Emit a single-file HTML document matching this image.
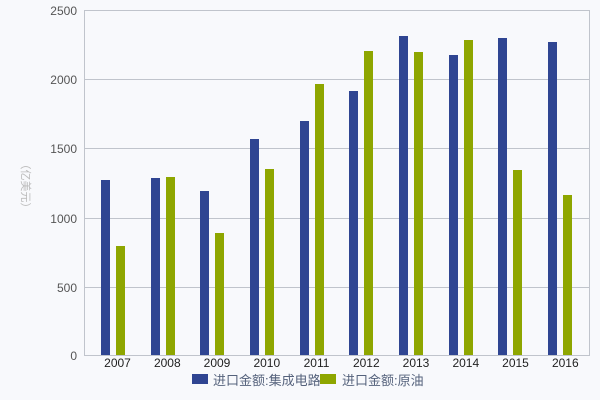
<!DOCTYPE html>
<html><head><meta charset="utf-8"><style>
html,body{margin:0;padding:0;background:#f8f9fc;}
svg{display:block;}
</style></head><body>
<svg width="600" height="400" viewBox="0 0 600 400" xmlns="http://www.w3.org/2000/svg" font-family="Liberation Sans, Noto Sans CJK SC, sans-serif">
<rect width="600" height="400" fill="#f8f9fc"/>
<g stroke="#c0c4cc" stroke-width="1">
<line x1="84" y1="10.5" x2="589" y2="10.5"/>
<line x1="84" y1="79.5" x2="589" y2="79.5"/>
<line x1="84" y1="148.5" x2="589" y2="148.5"/>
<line x1="84" y1="218.5" x2="589" y2="218.5"/>
<line x1="84" y1="287.5" x2="589" y2="287.5"/>
<line x1="84" y1="355.5" x2="589" y2="355.5"/>
<line x1="84.5" y1="10" x2="84.5" y2="356"/>
<line x1="589.5" y1="10" x2="589.5" y2="356"/>
</g>
<g fill="#555" font-size="12" text-anchor="end">
<text x="77" y="15">2500</text>
<text x="77" y="84">2000</text>
<text x="77" y="153">1500</text>
<text x="77" y="223">1000</text>
<text x="77" y="292">500</text>
<text x="77" y="360">0</text>
</g>
<text transform="translate(22,186) rotate(90)" fill="#bbb" font-size="11" text-anchor="middle" font-family="Liberation Sans, Noto Sans CJK SC, sans-serif">（亿美元）</text>
<g fill="#2f4592">
<rect x="101" y="180" width="9" height="175"/>
<rect x="151" y="178" width="9" height="177"/>
<rect x="200" y="191" width="9" height="164"/>
<rect x="250" y="139" width="9" height="216"/>
<rect x="300" y="121" width="9" height="234"/>
<rect x="349" y="91" width="9" height="264"/>
<rect x="399" y="36" width="9" height="319"/>
<rect x="449" y="55" width="9" height="300"/>
<rect x="498" y="38" width="9" height="317"/>
<rect x="548" y="42" width="9" height="313"/>
</g>
<g fill="#8ea600">
<rect x="116" y="246" width="9" height="109"/>
<rect x="166" y="177" width="9" height="178"/>
<rect x="215" y="233" width="9" height="122"/>
<rect x="265" y="169" width="9" height="186"/>
<rect x="315" y="84" width="9" height="271"/>
<rect x="364" y="51" width="9" height="304"/>
<rect x="414" y="52" width="9" height="303"/>
<rect x="464" y="40" width="9" height="315"/>
<rect x="513" y="170" width="9" height="185"/>
<rect x="563" y="195" width="9" height="160"/>
</g>
<g fill="#222" font-size="12" text-anchor="middle">
<text x="117.5" y="367">2007</text>
<text x="167.3" y="367">2008</text>
<text x="217" y="367">2009</text>
<text x="266.8" y="367">2010</text>
<text x="316.5" y="367">2011</text>
<text x="366.3" y="367">2012</text>
<text x="416" y="367">2013</text>
<text x="465.8" y="367">2014</text>
<text x="515.5" y="367">2015</text>
<text x="565.3" y="367">2016</text>
</g>
<text x="213" y="385" fill="#55627c" font-size="13">进口金额:集成电路</text>
<rect x="192" y="374" width="16" height="10" fill="#2f4592"/>
<rect x="320" y="374" width="16" height="10" fill="#8ea600"/>
<text x="342" y="385" fill="#55627c" font-size="13">进口金额:原油</text>
</svg>
</body></html>
